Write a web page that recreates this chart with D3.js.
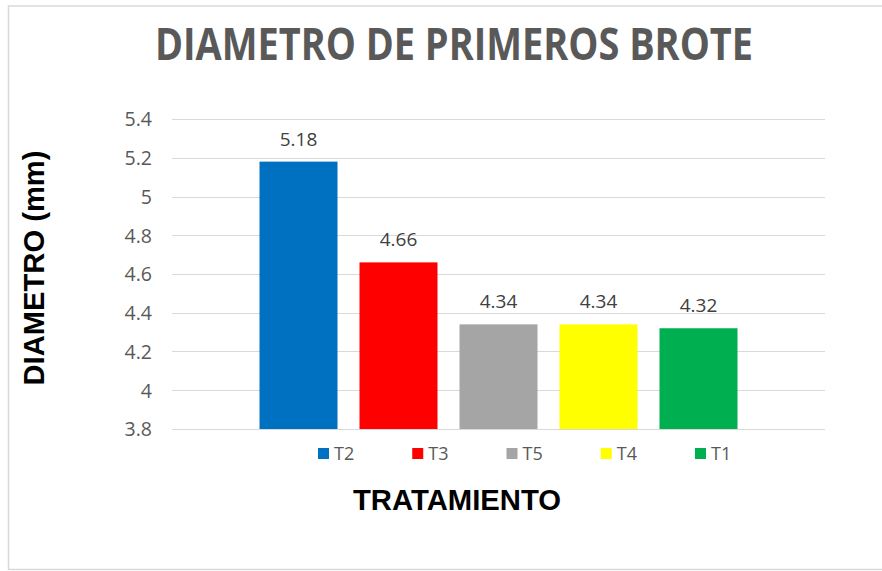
<!DOCTYPE html>
<html>
<head>
<meta charset="utf-8">
<script src="https://cdn.jsdelivr.net/npm/d3@7"></script>
<style>
  html, body { margin: 0; padding: 0; background: #fff; }
  svg { display: block; }
</style>
</head>
<body>
<svg id="chart" width="882" height="571"></svg>
<script>
// ---- data ----
const series = ["T2", "T3", "T5", "T4", "T1"];
const values = [5.18, 4.66, 4.34, 4.34, 4.32];
const colors = ["#0070C0", "#FF0000", "#A5A5A5", "#FFFF00", "#00B050"];
const yTicks = [3.8, 4, 4.2, 4.4, 4.6, 4.8, 5, 5.2, 5.4];
const titleText = "DIAMETRO DE PRIMEROS BROTE";
const yTitle = "DIAMETRO (mm)";
const xTitle = "TRATAMIENTO";

const svg = d3.select("#chart");
const W = 882, H = 571;
const margin = { left: 172, right: 57, top: 119, bottom: 142 };
const plotR = W - margin.right, plotB = H - margin.bottom;

// chart border
svg.append("rect")
  .attr("x", 8.5).attr("y", 6)
  .attr("width", 880).attr("height", 563.5)
  .attr("fill", "#fff").attr("stroke", "#d9d9d9").attr("stroke-width", 1.5);

const y = d3.scaleLinear().domain([3.8, 5.4]).range([plotB, margin.top]);

// one category cluster holding five series
const x0 = d3.scaleBand().domain(["grp"]).range([margin.left, plotR])
  .paddingInner(0).paddingOuter(0.153);
const x1 = d3.scaleBand().domain(series).range([0, x0.bandwidth()])
  .paddingInner(0.22).paddingOuter(0.11);

// gridlines
svg.append("g").selectAll("line").data(yTicks).join("line")
  .attr("x1", margin.left).attr("x2", plotR)
  .attr("y1", d => Math.round(y(d)) + 0.5).attr("y2", d => Math.round(y(d)) + 0.5)
  .attr("stroke", "#d9d9d9").attr("stroke-width", 1);

// y tick labels via axis
const yAxis = d3.axisLeft(y).tickValues(yTicks).tickSize(0).tickPadding(0)
  .tickFormat(d => d3.format("")(+d.toFixed(1)));
const gy = svg.append("g").attr("transform", `translate(${margin.left - 20},0)`).call(yAxis);
gy.select(".domain").remove();
gy.selectAll("text")
  .attr("fill", "#595959")
  .style("font-family", "'Open Sans', sans-serif")
  .style("font-size", "19.5px")
  .attr("dy", "0.35em");

// bars
const gBars = svg.append("g").attr("transform", `translate(${x0("grp")},0)`);
gBars.selectAll("rect").data(series).join("rect")
  .attr("x", (d) => x1(d))
  .attr("width", x1.bandwidth())
  .attr("y", (d, i) => y(values[i]))
  .attr("height", (d, i) => y(3.8) - y(values[i]))
  .attr("fill", (d, i) => colors[i]);

// data labels
gBars.selectAll("text").data(series).join("text")
  .attr("x", d => x1(d) + x1.bandwidth() / 2)
  .attr("y", (d, i) => y(values[i]) - 16)
  .attr("text-anchor", "middle")
  .attr("fill", "#404040")
  .style("font-family", "'Open Sans', sans-serif")
  .style("font-size", "19px")
  .text((d, i) => values[i].toFixed(2));

// legend
const lx = d3.scalePoint().domain(series).range([318, 695]);
const lg = svg.append("g").selectAll("g").data(series).join("g")
  .attr("transform", d => `translate(${lx(d)},448)`);
lg.append("rect").attr("width", 11).attr("height", 11)
  .attr("fill", (d, i) => colors[i]);
lg.append("text").attr("x", 16).attr("y", 12)
  .attr("fill", "#595959")
  .style("font-family", "'Open Sans', sans-serif")
  .style("font-size", "18px")
  .text(d => d);

// title
svg.append("text")
  .attr("x", 454).attr("y", 60)
  .attr("text-anchor", "middle")
  .attr("fill", "#595959")
  .attr("textLength", 598).attr("lengthAdjust", "spacingAndGlyphs")
  .style("font-family", "'Open Sans', sans-serif")
  .style("font-weight", "bold")
  .style("font-size", "45px")
  .text(titleText);

// axis titles
svg.append("text")
  .attr("transform", "translate(44,268) rotate(-90)")
  .attr("text-anchor", "middle")
  .attr("fill", "#000")
  .attr("textLength", 235).attr("lengthAdjust", "spacingAndGlyphs")
  .style("font-family", "'Liberation Sans', Arial, sans-serif")
  .style("font-weight", "bold")
  .style("font-size", "29px")
  .text(yTitle);

svg.append("text")
  .attr("x", 457).attr("y", 510)
  .attr("text-anchor", "middle")
  .attr("fill", "#000")
  .attr("textLength", 208).attr("lengthAdjust", "spacingAndGlyphs")
  .style("font-family", "'Liberation Sans', Arial, sans-serif")
  .style("font-weight", "bold")
  .style("font-size", "29px")
  .text(xTitle);
</script>
</body>
</html>
